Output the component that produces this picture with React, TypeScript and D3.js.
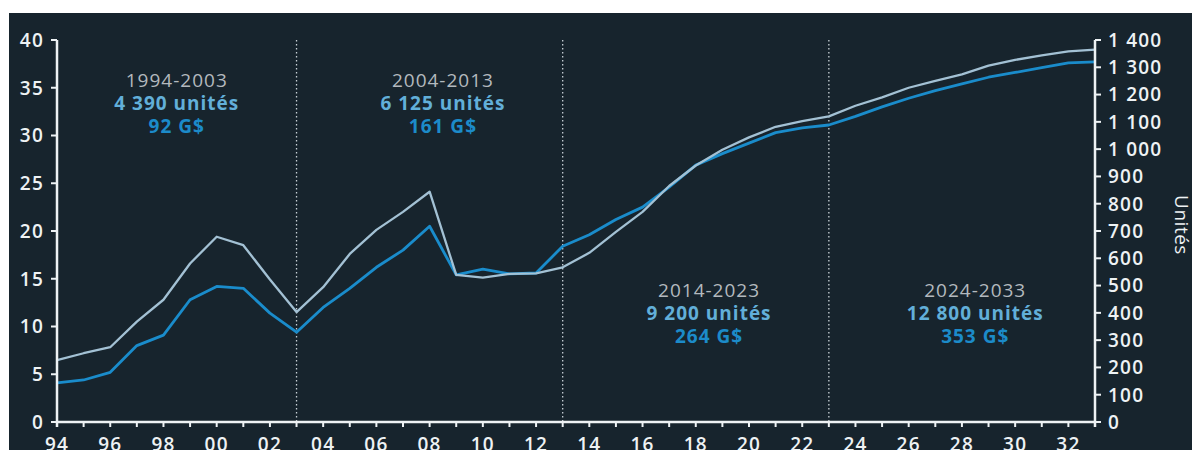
import React from "react";
import * as d3 from "d3";

const years = d3.range(1994, 2034);
// Unités (right axis)
const unitsSeries = [
  227, 252, 274, 368, 448, 581, 679, 648, 522, 403,
  494, 616, 704, 770, 844, 539, 529, 543, 545, 567,
  620, 697, 770, 865, 940, 998, 1043, 1082, 1103, 1120,
  1159, 1190, 1225, 1250, 1274, 1306, 1327, 1344, 1358, 1365,
];
// Valeur en G$ (left axis)
const valueSeries = [
  4.1, 4.4, 5.2, 8.0, 9.1, 12.8, 14.2, 14.0, 11.4, 9.4,
  12.0, 14.0, 16.2, 18.0, 20.5, 15.4, 16.0, 15.5, 15.6, 18.4,
  19.6, 21.2, 22.5, 24.6, 26.9, 28.1, 29.2, 30.3, 30.8, 31.1,
  32.0, 33.0, 33.9, 34.7, 35.4, 36.1, 36.6, 37.1, 37.6, 37.7,
];
const leftTicks = [0, 5, 10, 15, 20, 25, 30, 35, 40];
const rightTicks = [0, 100, 200, 300, 400, 500, 600, 700, 800, 900, 1000, 1100, 1200, 1300, 1400];
const dividers = [2003, 2013, 2023];
const periods = ["1994-2003", "2004-2013", "2014-2023", "2024-2033"];
const periodUnits = ["4 390 unités", "6 125 unités", "9 200 unités", "12 800 unités"];
const periodValues = ["92 G$", "161 G$", "264 G$", "353 G$"];
const periodCenters = [1998.5, 2008.5, 2018.5, 2028.5];
const periodRow = [0, 0, 1, 1];

const BG = "#17242d";
const AXIS = "#eef2f4";
const LIGHT = "#a3c1d4";
const BLUE = "#1a8ccb";
const FONT = "'Open Sans', 'DejaVu Sans', sans-serif";

export default function App() {
  const x = d3.scaleLinear().domain([1994, 2033]).range([57, 1095]);
  const yL = d3.scaleLinear().domain([0, 40]).range([422, 40]);
  const yR = d3.scaleLinear().domain([0, 1400]).range([422, 40]);

  const lineUnits = d3
    .line<number>()
    .x((_, i) => x(years[i]))
    .y((d) => yR(d));
  const lineValue = d3
    .line<number>()
    .x((_, i) => x(years[i]))
    .y((d) => yL(d));

  const fmtR = (v: number) => (v >= 1000 ? d3.format(",")(v).replace(",", " ") : String(v));
  const fmtX = (y: number) => String(y % 100).padStart(2, "0");
  const rowBase = [87, 297];
  const tickStyle = { fontSize: 19, fontWeight: 600, letterSpacing: 1.2 } as const;

  return (
    <svg
      width={1192}
      height={450}
      style={{ position: "absolute", left: 0, top: 0, display: "block", background: "#fff", fontFamily: FONT }}
    >
      <rect x={9} y={13} width={1183} height={437} fill={BG} />

      {/* dividers */}
      {dividers.map((d) => (
        <line
          key={d}
          x1={x(d)}
          x2={x(d)}
          y1={yL(40)}
          y2={yL(0)}
          stroke="#c8d0d6"
          strokeWidth={1.3}
          strokeDasharray="1.5 2.5"
        />
      ))}

      {/* series */}
      <path d={lineValue(valueSeries) ?? ""} fill="none" stroke={BLUE} strokeWidth={2.8} strokeLinejoin="round" />
      <path d={lineUnits(unitsSeries) ?? ""} fill="none" stroke={LIGHT} strokeWidth={2.3} strokeLinejoin="round" />

      {/* annotations */}
      {periods.map((p, i) => {
        const cx = x(periodCenters[i]);
        const b = rowBase[periodRow[i]];
        return (
          <g key={p} textAnchor="middle" fontSize={19} letterSpacing={1}>
            <text x={cx} y={b} fill="#b3b9be" fontWeight={500}>{p}</text>
            <text x={cx} y={b + 23} fill="#62afd9" fontWeight={700}>{periodUnits[i]}</text>
            <text x={cx} y={b + 46} fill="#1c8bc9" fontWeight={700}>{periodValues[i]}</text>
          </g>
        );
      })}

      {/* left axis */}
      <line x1={57} x2={57} y1={yL(40)} y2={yL(0) + 5} stroke={AXIS} strokeWidth={2.5} />
      {leftTicks.map((t) => (
        <g key={t}>
          <line x1={51} x2={57} y1={yL(t)} y2={yL(t)} stroke={AXIS} strokeWidth={2} />
          <text x={44} y={yL(t)} dy="0.36em" textAnchor="end" fill={AXIS} {...tickStyle}>
            {t}
          </text>
        </g>
      ))}

      {/* right axis */}
      <line x1={1095} x2={1095} y1={yR(1400)} y2={yR(0) + 5} stroke={AXIS} strokeWidth={2.5} />
      {rightTicks.map((t) => (
        <g key={t}>
          <line x1={1095} x2={1101} y1={yR(t)} y2={yR(t)} stroke={AXIS} strokeWidth={2} />
          <text x={1108} y={yR(t)} dy="0.36em" textAnchor="start" fill={AXIS} {...tickStyle}>
            {fmtR(t)}
          </text>
        </g>
      ))}
      <text
        transform={`translate(1175,225) rotate(90)`}
        textAnchor="middle"
        fill={AXIS}
        fontSize={19}
        fontWeight={500}
        letterSpacing={0.5}
      >
        Unités
      </text>

      {/* x axis */}
      <line x1={56} x2={1096} y1={422} y2={422} stroke={AXIS} strokeWidth={2.5} />
      {years.map((yr) => (
        <line key={yr} x1={x(yr)} x2={x(yr)} y1={422} y2={427} stroke={AXIS} strokeWidth={2} />
      ))}
      {years
        .filter((yr) => yr % 2 === 0)
        .map((yr) => (
          <text key={yr} x={x(yr)} y={451} textAnchor="middle" fill={AXIS} {...tickStyle}>
            {fmtX(yr)}
          </text>
        ))}
    </svg>
  );
}
